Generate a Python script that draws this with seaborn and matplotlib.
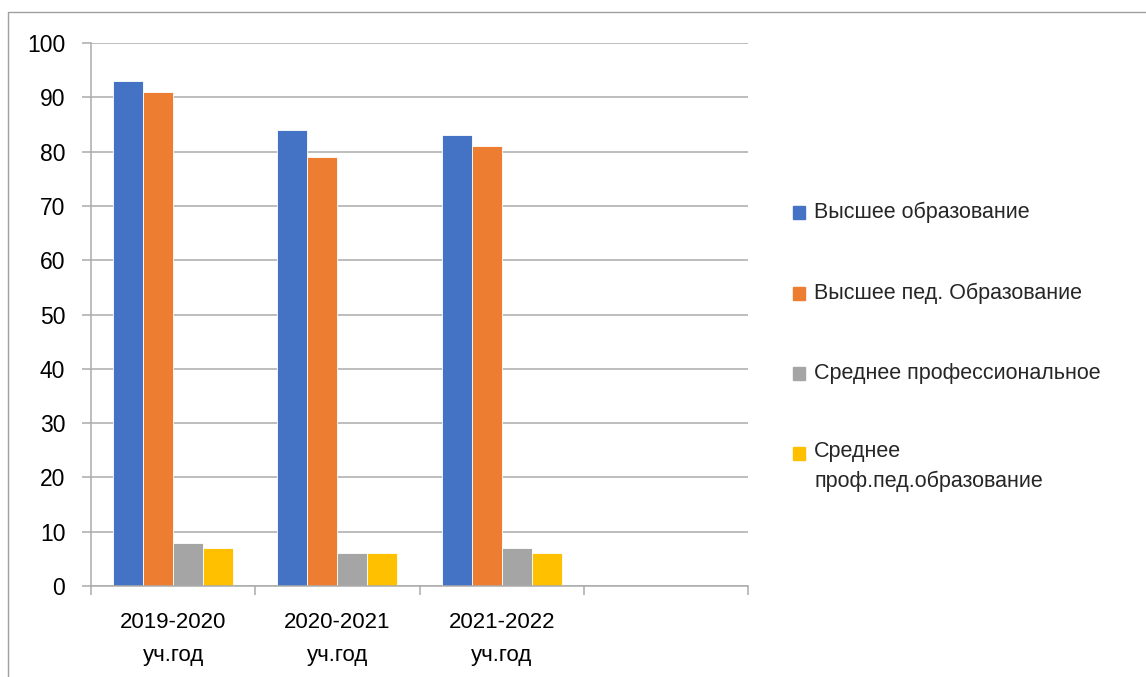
import pandas as pd
import matplotlib.pyplot as plt
import seaborn as sns
from matplotlib.lines import Line2D
from matplotlib.patches import Rectangle

sns.set_style("white")
plt.rcParams['font.family'] = ['Liberation Sans', 'DejaVu Sans']

# ----------------------------------
# Data
# ----------------------------------
years = ["2019-2020\nуч.год", "2020-2021\nуч.год", "2021-2022\nуч.год"]
order = years + [" "]   # fourth empty slot, as in the original
series = ["Высшее образование", "Высшее пед. Образование",
          "Среднее профессиональное", "Среднее\nпроф.пед.образование"]
higher = [93, 84, 83]
higher_ped = [91, 79, 81]
middle_prof = [8, 6, 7]
middle_ped = [7, 6, 6]
colors = ["#4472C4", "#ED7D31", "#A5A5A5", "#FFC000"]

rows = []
for vals, name in zip([higher, higher_ped, middle_prof, middle_ped], series):
    for y, v in zip(years, vals):
        rows.append({"year": y, "value": v, "type": name})
df = pd.DataFrame(rows)

# ----------------------------------
# Plot
# ----------------------------------
fig = plt.figure(figsize=(11.46, 6.77), dpi=100)
ax = fig.add_axes([91 / 1146, 1 - 586 / 677, (748 - 91) / 1146, (586 - 43) / 677])

sns.barplot(data=df, x="year", y="value", hue="type", order=order,
            hue_order=series, palette=colors, saturation=1, width=0.73,
            edgecolor="white", linewidth=0.6, legend=False, ax=ax)

ax.set_xlim(-0.5, 3.5)
ax.set_ylim(0, 100)
ax.set_yticks(range(0, 101, 10))
ax.set_xlabel("")
ax.set_ylabel("")

grid_c = "#ABABAB"
ax.yaxis.grid(True, color=grid_c, linewidth=1.1)
ax.set_axisbelow(True)
for s in ["top", "right"]:
    ax.spines[s].set_visible(False)
for s in ["left", "bottom"]:
    ax.spines[s].set_color(grid_c)
    ax.spines[s].set_linewidth(1.1)

ax.tick_params(axis="y", which="major", left=True, length=6.5, width=1.1,
               color=grid_c, labelsize=16.5, pad=12, labelcolor="black")
ax.tick_params(axis="x", which="major", bottom=False, labelsize=16, pad=15,
               labelcolor="black")
ax.set_xticks([-0.5, 0.5, 1.5, 2.5, 3.5], minor=True)
ax.tick_params(axis="x", which="minor", bottom=True, length=6.5, width=1.1,
               color=grid_c)
for lbl in ax.get_xticklabels():
    lbl.set_linespacing(1.75)

# legend on the right
leg_y = [212, 293, 373, 453]
for c, name, yy in zip(colors, series, leg_y):
    fig.patches.append(Rectangle((793 / 1146, 1 - (yy + 7) / 677), 12 / 1146, 13 / 677,
                                 transform=fig.transFigure, color=c))
    if "\n" in name:
        fig.text(814 / 1146, 1 - (yy - 12) / 677, name, fontsize=15.5, va="top",
                 ha="left", linespacing=1.55)
    else:
        fig.text(814 / 1146, 1 - yy / 677, name, fontsize=15.5, va="center", ha="left")

# outer chart frame (cropped in the original)
fig.lines.append(Line2D([8 / 1146, 8 / 1146, 1.0], [0.0, 1 - 12 / 677, 1 - 12 / 677],
                        transform=fig.transFigure, color="#A0A0A0", linewidth=1))

fig.savefig("out.png", dpi=100)
